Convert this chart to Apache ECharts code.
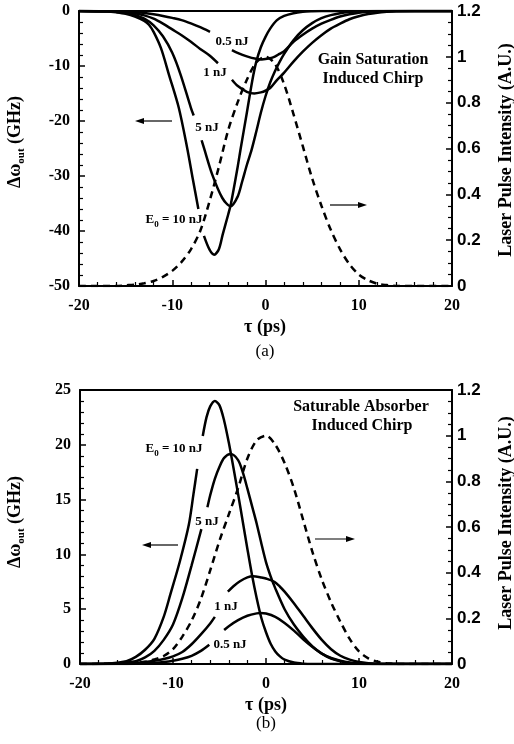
<!DOCTYPE html>
<html><head><meta charset="utf-8">
<script src="https://cdn.jsdelivr.net/npm/echarts@6/dist/echarts.min.js"></script>
<style>html,body{margin:0;padding:0;background:#fff}#c{width:514px;height:744px}</style>
</head><body><div id="c"></div>
<script>
// ---------- data ([tau (ps), value]; null = gap under a label) ----------
// (a) Gain saturation induced chirp, GHz
const gain05 = [[-20,0],[-16,-0.05],[-15,-0.1],[-14,-0.2],[-13,-0.35],[-12,-0.6],[-11,-0.9],[-10,-1.25],[-9,-1.65],[-8,-2.25],[-7,-2.95],[-5.95,-3.8],[-5,null],[-3.6,-7.1],[-3,-7.6],[-2,-8.25],[-1,-8.7],[-0.4,-8.8],[0.5,-8.6],[1,-8.3],[1.5,-7.8],[2,-7.3],[3,-5.6],[4,-4.3],[5,-3.2],[6,-2.3],[7,-1.6],[8,-1.0],[9,-0.6],[10,-0.3],[11,-0.15],[12,-0.06],[14,0],[20,0]];
const gain1 = [[-20,0],[-16,-0.1],[-15,-0.2],[-14,-0.4],[-13,-0.8],[-12,-1.4],[-11,-2.3],[-10,-3.35],[-9,-4.4],[-8,-5.6],[-7,-6.9],[-6,-8.1],[-5.1,-9.5],[-4.5,null],[-3.6,-12.5],[-3,-13.6],[-2,-14.7],[-1.2,-15],[-0.5,-14.8],[0,-14.5],[0.5,-14.0],[1.2,-12.6],[2,-11.2],[3,-9.2],[4,-7.4],[5,-5.8],[6,-4.4],[7,-3.2],[8,-2.3],[9,-1.5],[10,-0.95],[11,-0.55],[12,-0.3],[13,-0.15],[14,-0.05],[16,0],[20,0]];
const gain5 = [[-20,0],[-17,-0.05],[-16,-0.1],[-15,-0.3],[-14,-0.7],[-13,-1.4],[-12,-2.6],[-11,-4.6],[-10,-7.6],[-9.1,-11.6],[-8,-17.6],[-7.7,-19.0],[-7.3,null],[-6.85,-23.5],[-6.6,-24.9],[-5.7,-29.8],[-4.63,-34.0],[-3.75,-35.5],[-3,-33.8],[-2.5,-31],[-2,-28],[-1.5,-25.3],[-1,-22],[-0.5,-18.5],[0,-15.5],[0.5,-13],[1,-11],[1.5,-9.3],[2,-7.8],[3,-5.3],[4,-3.5],[5,-2.2],[6,-1.3],[7,-0.75],[8,-0.4],[9,-0.2],[10,-0.1],[11,-0.03],[12,0],[20,0]];
const gain10 = [[-20,0],[-17,-0.1],[-16,-0.25],[-15,-0.5],[-14,-1.0],[-13,-1.8],[-12.5,-2.5],[-12,-3.8],[-11.2,-6.8],[-10.35,-11.6],[-9.3,-17.6],[-8.4,-24.9],[-7.8,-30.5],[-7.2,-36],[-6.9,null],[-6.6,-40.9],[-6,-43.4],[-5.5,-44.3],[-5,-43.3],[-4.6,-40.7],[-4,-37],[-3.7,-35],[-3,-28.5],[-2.66,-25],[-2,-18.5],[-1.4,-12.5],[-1,-9.3],[-0.5,-6.6],[0,-4.7],[0.5,-3.2],[1.2,-1.7],[2,-0.9],[3,-0.4],[4,-0.15],[5,-0.05],[6,0],[20,0]];
const pulseA = [[-20,0],[-16,0],[-15,0.003],[-14,0.006],[-13,0.012],[-12,0.022],[-11,0.04],[-10,0.066],[-9,0.105],[-8,0.16],[-7,0.24],[-6,0.37],[-5,0.52],[-4,0.68],[-3,0.8],[-2,0.9],[-1,0.975],[0,1.0],[1,0.97],[2,0.88],[3,0.75],[4,0.61],[5,0.47],[6,0.35],[7,0.245],[8,0.16],[9,0.095],[10,0.05],[11,0.025],[12,0.01],[13,0.004],[14,0],[20,0]];
// (b) Saturable absorber induced chirp, GHz
const abs05 = [[-20,0],[-15,0.01],[-14,0.02],[-13,0.05],[-12,0.1],[-11,0.18],[-10,0.3],[-9,0.48],[-8,0.75],[-7,1.2],[-6.1,1.76],[-5.3,null],[-4.5,3.1],[-4,3.45],[-3,4.0],[-2,4.4],[-1,4.62],[-0.6,4.65],[0,4.6],[1,4.3],[2,3.75],[3,3.05],[4,2.25],[5,1.55],[6,0.95],[7,0.55],[8,0.3],[9,0.14],[10,0.06],[11,0.02],[12,0],[20,0]];
const abs1 = [[-20,0],[-16,0.02],[-15,0.05],[-14,0.1],[-13,0.18],[-12,0.3],[-11,0.45],[-10,0.7],[-9,1.1],[-8,1.8],[-7,2.7],[-6,3.7],[-5.5,4.3],[-4.8,null],[-4.1,6.6],[-3.5,7.1],[-2.8,7.55],[-2,7.9],[-1.4,8.0],[-0.5,7.9],[0,7.8],[0.9,7.5],[1.5,7.05],[2,6.6],[3,5.55],[4,4.4],[5,3.25],[6,2.2],[7,1.35],[8,0.75],[9,0.4],[10,0.18],[11,0.07],[12,0.02],[13,0],[20,0]];
const abs5 = [[-20,0],[-17,0.02],[-16,0.05],[-15,0.12],[-14,0.25],[-13,0.6],[-12,1.2],[-11,2.2],[-10,3.6],[-9,6.0],[-8,9.0],[-6.95,12.3],[-6.6,null],[-6.3,14.3],[-6,15.4],[-5.5,16.9],[-5,18.0],[-4.5,18.8],[-3.8,19.15],[-3,18.6],[-2.5,17.5],[-2,16.0],[-1.5,14.4],[-1,12.8],[-0.5,11.0],[0,9.3],[0.5,8.0],[1,6.9],[2,5.0],[3,3.6],[4,2.5],[5,1.6],[6,0.95],[7,0.5],[8,0.25],[9,0.1],[10,0.03],[11,0],[20,0]];
const abs10 = [[-20,0],[-17,0.05],[-16,0.12],[-15,0.25],[-14,0.65],[-13,1.3],[-12,2.3],[-11,4.3],[-10.3,6.3],[-9.25,9.4],[-8.3,12.7],[-7.8,15.5],[-7.4,17.8],[-7.1,null],[-6.8,20.8],[-6.4,22.5],[-6,23.5],[-5.5,24.0],[-5,23.6],[-4.5,22.2],[-4,20.2],[-3.5,17.9],[-3,15.5],[-2.5,13.0],[-2,10.5],[-1.5,8.1],[-1,6.0],[-0.5,4.2],[0,2.9],[0.5,1.85],[1,1.15],[1.5,0.7],[2,0.4],[3,0.13],[4,0.03],[5,0],[20,0]];
const pulseB = [[-20,0],[-15,0.002],[-14,0.005],[-13,0.01],[-12,0.02],[-11,0.035],[-10,0.065],[-9,0.12],[-8,0.19],[-7,0.285],[-6,0.41],[-5,0.54],[-4,0.655],[-3,0.77],[-2,0.9],[-1,0.98],[0,1.0],[1,0.96],[2,0.88],[3,0.77],[4,0.63],[5,0.49],[6,0.37],[7,0.27],[8,0.185],[9,0.11],[10,0.055],[11,0.025],[12,0.01],[13,0.003],[14,0],[20,0]];
// axis ranges / ticks
const tauRange = [-20, 20], tauStep = 10;
const gainRange = [-50, 0], gainStep = 10;
const absRange = [0, 25], absStep = 5;
const intRange = [0, 1.2], intStep = 0.2;

const SERIF = '"Liberation Serif", "DejaVu Serif", serif';
const SANS = '"Liberation Sans", Arial, sans-serif';

function xAx(gi) {
  return { gridIndex: gi, type: 'value', min: tauRange[0], max: tauRange[1], interval: tauStep,
    axisLine: { show: true, onZero: false, lineStyle: { color: '#000', width: 2 } },
    axisTick: { show: true, inside: true, length: 6, lineStyle: { color: '#000', width: 1.5 } },
    minorTick: { show: true, splitNumber: 5, length: 4, lineStyle: { color: '#000', width: 1.2 } },
    splitLine: { show: false },
    axisLabel: { color: '#000', fontFamily: SERIF, fontWeight: 'bold', fontSize: 16, margin: 12 } };
}
function xTop(gi) {
  return { gridIndex: gi, type: 'value', position: 'top', min: tauRange[0], max: tauRange[1],
    axisLine: { show: true, onZero: false, lineStyle: { color: '#000', width: 2 } },
    axisTick: { show: false }, axisLabel: { show: false }, splitLine: { show: false } };
}
function yLeft(gi, range, step) {
  return { gridIndex: gi, type: 'value', position: 'left', min: range[0], max: range[1], interval: step,
    axisLine: { show: true, onZero: false, lineStyle: { color: '#000', width: 2 } },
    axisTick: { show: true, inside: true, length: 6, lineStyle: { color: '#000', width: 1.5 } },
    minorTick: { show: true, splitNumber: 5, length: 4, lineStyle: { color: '#000', width: 1.2 } },
    splitLine: { show: false },
    axisLabel: { color: '#000', fontFamily: SERIF, fontWeight: 'bold', fontSize: 16, margin: 9 } };
}
function yRight(gi) {
  return { gridIndex: gi, type: 'value', position: 'right', min: intRange[0], max: intRange[1], interval: intStep,
    axisLine: { show: true, onZero: false, lineStyle: { color: '#000', width: 2 } },
    axisTick: { show: true, inside: true, length: 6, lineStyle: { color: '#000', width: 1.5 } },
    minorTick: { show: true, splitNumber: 4, length: 4, lineStyle: { color: '#000', width: 1.2 } },
    splitLine: { show: false },
    axisLabel: { color: '#000', fontFamily: SANS, fontWeight: 'bold', fontSize: 17, margin: 5 } };
}
function solid(data, xi, yi) {
  return { type: 'line', data: data, xAxisIndex: xi, yAxisIndex: yi, symbol: 'none', smooth: 0.3,
    connectNulls: false, silent: true, lineStyle: { color: '#000', width: 2.5 } };
}
function dashed(data, xi, yi) {
  return { type: 'line', data: data, xAxisIndex: xi, yAxisIndex: yi, symbol: 'none', smooth: 0.3,
    silent: true, lineStyle: { color: '#000', width: 2.5, type: [7, 5] } };
}
function txt(x, y, text, size, weight, extra) {
  return Object.assign({ type: 'text', x: x, y: y, silent: true,
    style: { text: text, fill: '#000', fontFamily: SERIF, fontWeight: weight || 'bold', fontSize: size,
      align: 'center', verticalAlign: 'middle' } }, extra || {});
}
function eLabel(x, y) {
  return { type: 'text', x: x, y: y, silent: true,
    style: { text: '{m|E}{s|0}{m| = 10 nJ}', align: 'center', verticalAlign: 'middle',
      rich: { m: { fontFamily: SERIF, fontWeight: 'bold', fontSize: 13, lineHeight: 18, fill: '#000', verticalAlign: 'middle' },
              s: { fontFamily: SERIF, fontWeight: 'bold', fontSize: 9, lineHeight: 8, fill: '#000', verticalAlign: 'bottom' } } } };
}
function yName(x, y) {
  return { type: 'text', x: x, y: y, rotation: Math.PI / 2, silent: true,
    style: { text: '{m|Δω}{s|out}{m| (GHz)}', align: 'center', verticalAlign: 'middle',
      rich: { m: { fontFamily: SERIF, fontWeight: 'bold', fontSize: 18, lineHeight: 24, fill: '#000', verticalAlign: 'middle' },
              s: { fontFamily: SERIF, fontWeight: 'bold', fontSize: 11, lineHeight: 11, fill: '#000', verticalAlign: 'bottom' } } } };
}
function arrow(x1, y1, x2, y2) {
  const dir = Math.sign(x2 - x1);
  return { type: 'group', silent: true, children: [
    { type: 'line', shape: { x1: x1, y1: y1, x2: x2 - dir * 6, y2: y2 }, style: { stroke: '#000', lineWidth: 1.2 } },
    { type: 'polygon', shape: { points: [[x2, y2], [x2 - dir * 9, y2 - 3], [x2 - dir * 9, y2 + 3]] }, style: { fill: '#000' } }
  ] };
}

const chart = echarts.init(document.getElementById('c'), null, { renderer: 'canvas' });
chart.setOption({
  animation: false,
  backgroundColor: '#fff',
  grid: [{ left: 79, top: 11, width: 373, height: 275 }, { left: 80, top: 390, width: 372, height: 274 }],
  xAxis: [xAx(0), xTop(0), xAx(1), xTop(1)],
  yAxis: [yLeft(0, gainRange, gainStep), yRight(0), yLeft(1, absRange, absStep), yRight(1)],
  series: [
    solid(gain05, 0, 0), solid(gain1, 0, 0), solid(gain5, 0, 0), solid(gain10, 0, 0), dashed(pulseA, 0, 1),
    solid(abs05, 2, 2), solid(abs1, 2, 2), solid(abs5, 2, 2), solid(abs10, 2, 2), dashed(pulseB, 2, 3)
  ],
  graphic: [
    // panel (a)
    txt(232, 42, '0.5 nJ', 13), txt(215, 73, '1 nJ', 13), txt(207, 128, '5 nJ', 13), eLabel(174, 220),
    txt(373, 60, 'Gain Saturation', 16), txt(373, 79, 'Induced Chirp', 16),
    arrow(172, 121, 135, 121), arrow(330, 205, 367, 205),
    yName(15, 142), txt(506, 150, 'Laser Pulse Intensity (A.U.)', 18, 'bold', { rotation: Math.PI / 2 }),
    txt(265, 327, 'τ (ps)', 18), txt(265, 352, '(a)', 17, 'normal'),
    // panel (b)
    eLabel(174, 449), txt(207, 522, '5 nJ', 13), txt(226, 607, '1 nJ', 13), txt(230, 645, '0.5 nJ', 13),
    txt(361, 407, 'Saturable Absorber', 16), txt(362, 426, 'Induced Chirp', 16),
    arrow(178, 545, 142, 545), arrow(315, 539, 355, 539),
    yName(15, 522), txt(506, 523, 'Laser Pulse Intensity (A.U.)', 18, 'bold', { rotation: Math.PI / 2 }),
    txt(266, 705, 'τ (ps)', 18), txt(266, 724, '(b)', 17, 'normal')
  ]
});
</script></body></html>
